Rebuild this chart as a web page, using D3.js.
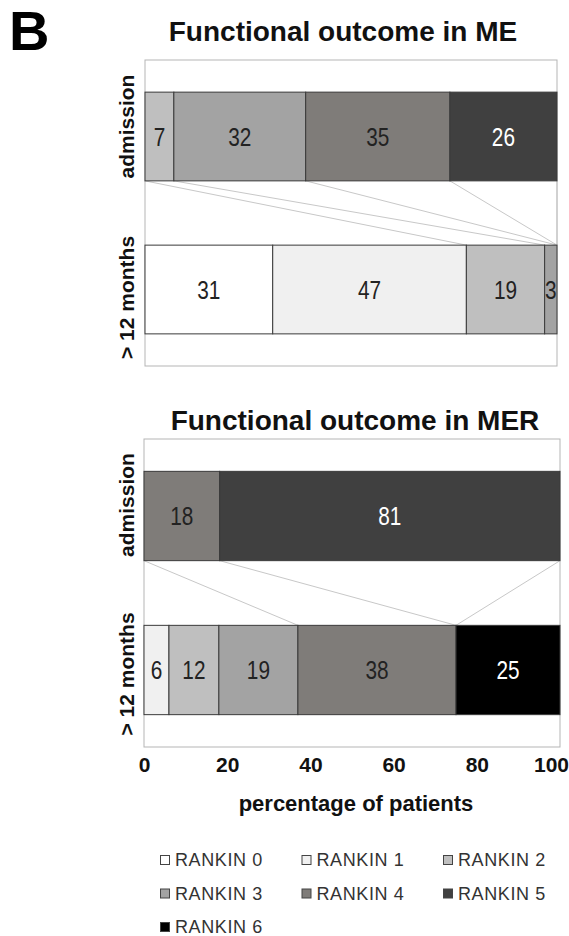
<!DOCTYPE html>
<html>
<head>
<meta charset="utf-8">
<script src="https://cdn.jsdelivr.net/npm/d3@7"></script>
<style>
  body { margin: 0; background: #fff; }
  svg { display: block; }
</style>
</head>
<body>
<div id="chart"></div>
<script>
// categories and values (percent of patients)
const rankins = ["RANKIN 0", "RANKIN 1", "RANKIN 2", "RANKIN 3", "RANKIN 4", "RANKIN 5", "RANKIN 6"];
const periods = ["admission", "> 12 months"];
const meAdmission = [0, 0, 7, 32, 35, 26, 0];
const me12Months  = [31, 47, 19, 3, 0, 0, 0];
const merAdmission = [0, 0, 0, 0, 18, 81, 0];
const mer12Months  = [0, 6, 12, 19, 38, 0, 25];
const xTicks = [0, 20, 40, 60, 80, 100];

const W = 569, H = 936;
const sans = "'Liberation Sans', Arial, sans-serif";

const color = d3.scaleOrdinal()
    .domain(rankins)
    .range(["#ffffff", "#f0f0f0", "#bfbfbf", "#a3a3a3", "#7f7c79", "#404040", "#000000"]);

const svg = d3.select("#chart").append("svg")
    .attr("width", W)
    .attr("height", H);

svg.append("text")
    .text("B")
    .attr("x", 9)
    .attr("y", 50)
    .style("font-family", sans)
    .style("font-weight", "bold")
    .style("font-size", "56px")
    .style("fill", "#000");

// one panel per patient group
function drawPanel(p) {
    let g = svg.append("g");

    let x = d3.scaleLinear().domain([0, 100]).range([p.left, p.right]);
    let y = d3.scaleBand().domain(periods)
        .range([p.top, p.bottom])
        .paddingInner(0.42)
        .paddingOuter(0.21);

    // 100% stacked rows
    let stack = d3.stack()
        .keys(d3.range(rankins.length))
        .value((d, k) => d[k])
        .offset(d3.stackOffsetExpand);
    let series = stack(p.rows);

    g.append("text")
        .text(p.title)
        .attr("x", p.titleX)
        .attr("y", p.titleY)
        .attr("text-anchor", "middle")
        .style("font-family", sans)
        .style("font-weight", "bold")
        .style("font-size", "28px")
        .style("fill", "#111");

    g.append("rect")
        .attr("x", p.left)
        .attr("y", p.top)
        .attr("width", p.right - p.left)
        .attr("height", p.bottom - p.top)
        .style("fill", "#fff")
        .style("stroke", "#b5b5b5")
        .style("stroke-width", 1);

    // series lines: boundaries of each category present at admission
    let seen = new Set();
    let links = [];
    series.forEach((s, k) => {
        if (p.rows[0][k] <= 0) return;
        [0, 1].forEach(e => {
            let a = s[0][e] * 100, b = s[1][e] * 100;
            let key = a.toFixed(3) + "_" + b.toFixed(3);
            if (!seen.has(key)) { seen.add(key); links.push([a, b]); }
        });
    });
    g.selectAll("line.link")
        .data(links)
        .enter()
        .append("line")
        .attr("class", "link")
        .attr("x1", d => x(d[0]))
        .attr("y1", y(periods[0]) + y.bandwidth())
        .attr("x2", d => x(d[1]))
        .attr("y2", y(periods[1]))
        .style("stroke", "#c8c8c8")
        .style("stroke-width", 1);

    let segs = [];
    series.forEach((s, k) => {
        s.forEach((d, i) => {
            let v = p.rows[i][k];
            if (v > 0) segs.push({k: k, period: periods[i], x0: d[0] * 100, x1: d[1] * 100, value: v});
        });
    });

    g.selectAll("rect.seg")
        .data(segs)
        .enter()
        .append("rect")
        .attr("class", "seg")
        .attr("x", d => x(d.x0))
        .attr("y", d => y(d.period))
        .attr("width", d => x(d.x1) - x(d.x0))
        .attr("height", y.bandwidth())
        .style("fill", d => color(rankins[d.k]))
        .style("stroke", "#3a3a3a")
        .style("stroke-width", 1);

    // condensed numbers, as in the original figure
    g.selectAll("text.val")
        .data(segs)
        .enter()
        .append("text")
        .attr("class", "val")
        .text(d => d.value)
        .attr("transform", d => "translate(" + x((d.x0 + d.x1) / 2) + "," + (y(d.period) + y.bandwidth() / 2) + ") scale(0.8,1)")
        .attr("dy", "0.36em")
        .attr("text-anchor", "middle")
        .style("font-family", sans)
        .style("font-size", "26px")
        .style("fill", d => d.k >= 5 ? "#fff" : "#222");

    g.selectAll("text.period")
        .data(periods)
        .enter()
        .append("text")
        .attr("class", "period")
        .text(d => d)
        .attr("transform", (d, i) => "translate(134," + (y(d) + y.bandwidth() / 2 + p.labelShift[i]) + ") rotate(-90)")
        .attr("text-anchor", "middle")
        .style("font-family", sans)
        .style("font-weight", "bold")
        .style("font-size", "21px")
        .style("fill", "#111");

    return x;
}

drawPanel({
    title: "Functional outcome in ME", titleX: 343, titleY: 41,
    rows: [meAdmission, me12Months],
    left: 145, right: 557, top: 60, bottom: 366,
    labelShift: [-10, 8]
});

let xBottom = drawPanel({
    title: "Functional outcome in MER", titleX: 355, titleY: 430,
    rows: [merAdmission, mer12Months],
    left: 144, right: 560, top: 439, bottom: 747,
    labelShift: [-11, 4]
});

let axis = svg.append("g")
    .attr("transform", "translate(0,747)")
    .call(d3.axisBottom(xBottom).tickValues(xTicks).tickSize(0).tickPadding(10));
axis.select(".domain").remove();
axis.selectAll("text")
    .style("font-family", sans)
    .style("font-weight", "bold")
    .style("font-size", "21px")
    .style("fill", "#111");
// last label pulled in so it stays on the page
axis.selectAll(".tick").filter(d => d === xTicks[xTicks.length - 1])
    .select("text").attr("dx", -9);

svg.append("text")
    .text("percentage of patients")
    .attr("x", 356)
    .attr("y", 811)
    .attr("text-anchor", "middle")
    .style("font-family", sans)
    .style("font-weight", "bold")
    .style("font-size", "22px")
    .style("fill", "#111");

// legend, three columns
let legend = svg.append("g").selectAll("g")
    .data(rankins)
    .enter()
    .append("g")
    .attr("transform", (d, i) => "translate(" + (160 + (i % 3) * 141.5) + "," + (866 + Math.floor(i / 3) * 33.5) + ")");

legend.append("rect")
    .attr("x", 0.5)
    .attr("y", -10.5)
    .attr("width", 9)
    .attr("height", 9)
    .style("fill", d => color(d))
    .style("stroke", "#444")
    .style("stroke-width", 1);

legend.append("text")
    .text(d => d)
    .attr("x", 15)
    .attr("y", 0)
    .style("font-family", sans)
    .style("font-size", "18px")
    .style("letter-spacing", "0.6px")
    .style("fill", "#333");
</script>
</body>
</html>
